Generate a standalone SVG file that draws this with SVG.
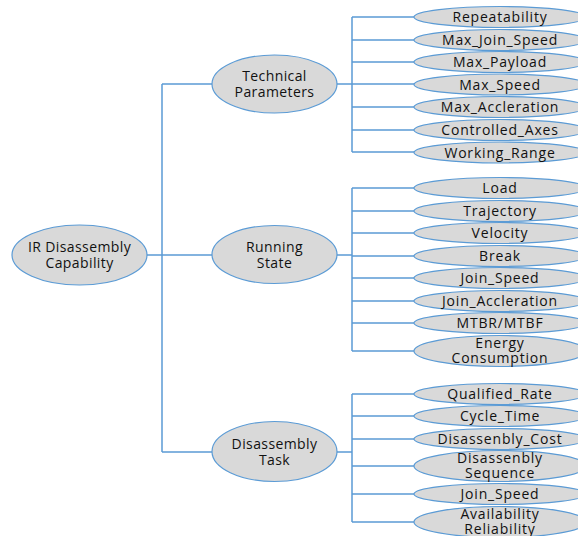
<svg xmlns="http://www.w3.org/2000/svg" width="578" height="536" viewBox="0 0 578 536">
<style>
.n ellipse{fill:#d9d9d9;stroke:#5b9bd5;stroke-width:1.2}
.n text{font-family:"Open Sans","Liberation Sans",sans-serif;font-size:14px;fill:#111111;text-anchor:middle;letter-spacing:0.4px}
.l text{letter-spacing:0.8px}
#connectors path{fill:none;stroke:#5b9bd5;stroke-width:1.5}
</style>
<rect width="578" height="536" fill="#ffffff"/>
<g id="connectors">
<path d="M147 255H162M162 84V452M162 84H212M162 255H212M162 452H212"/>
<path d="M337 84H352M352 17V152M352 17H414M352 40H414M352 62H414M352 84H414M352 107H414M352 130H414M352 152H414"/>
<path d="M337 255H352M352 188V351M352 188H414M352 211H414M352 233H414M352 256H414M352 278H414M352 301H414M352 323H414M352 351H414"/>
<path d="M337 452H352M352 394V522M352 394H414M352 416H414M352 439H414M352 466H414M352 494H414M352 522H414"/>
</g>
<g id="root" class="n"><ellipse cx="79.5" cy="255" rx="67.5" ry="30"/><text x="79.5" y="252">IR Disassembly</text><text x="79.5" y="268">Capability</text></g>
<g id="tech" class="n"><ellipse cx="274.5" cy="84" rx="62.5" ry="29"/><text x="274.5" y="81">Technical</text><text x="274.5" y="97">Parameters</text></g>
<g id="running" class="n"><ellipse cx="274.5" cy="254.5" rx="62.5" ry="29"/><text x="274.5" y="252">Running</text><text x="274.5" y="268">State</text></g>
<g id="task" class="n"><ellipse cx="274.5" cy="451.5" rx="62.5" ry="30"/><text x="274.5" y="449">Disassembly</text><text x="274.5" y="465">Task</text></g>
<g id="t1" class="n l"><ellipse cx="500" cy="17" rx="86" ry="10.5"/><text x="500" y="22">Repeatability</text></g>
<g id="t2" class="n l"><ellipse cx="500" cy="40" rx="86" ry="10.5"/><text x="500" y="45">Max_Join_Speed</text></g>
<g id="t3" class="n l"><ellipse cx="500" cy="62" rx="86" ry="10.5"/><text x="500" y="67">Max_Payload</text></g>
<g id="t4" class="n l"><ellipse cx="500" cy="84.5" rx="86" ry="10.5"/><text x="500" y="89.5">Max_Speed</text></g>
<g id="t5" class="n l"><ellipse cx="500" cy="107" rx="86" ry="10.5"/><text x="500" y="112">Max_Accleration</text></g>
<g id="t6" class="n l"><ellipse cx="500" cy="130" rx="86" ry="10.5"/><text x="500" y="135">Controlled_Axes</text></g>
<g id="t7" class="n l"><ellipse cx="500" cy="152.5" rx="86" ry="10.5"/><text x="500" y="157.5">Working_Range</text></g>
<g id="r1" class="n l"><ellipse cx="500" cy="188" rx="86" ry="10.5"/><text x="500" y="193">Load</text></g>
<g id="r2" class="n l"><ellipse cx="500" cy="211" rx="86" ry="10.5"/><text x="500" y="216">Trajectory</text></g>
<g id="r3" class="n l"><ellipse cx="500" cy="233" rx="86" ry="10.5"/><text x="500" y="238">Velocity</text></g>
<g id="r4" class="n l"><ellipse cx="500" cy="256" rx="86" ry="10.5"/><text x="500" y="261">Break</text></g>
<g id="r5" class="n l"><ellipse cx="500" cy="278" rx="86" ry="10.5"/><text x="500" y="283">Join_Speed</text></g>
<g id="r6" class="n l"><ellipse cx="500" cy="301" rx="86" ry="10.5"/><text x="500" y="306">Join_Accleration</text></g>
<g id="r7" class="n l"><ellipse cx="500" cy="323" rx="86" ry="10.5"/><text x="500" y="328">MTBR/MTBF</text></g>
<g id="r8" class="n l"><ellipse cx="500" cy="351" rx="86" ry="15.5"/><text x="500" y="348">Energy</text><text x="500" y="363">Consumption</text></g>
<g id="d1" class="n l"><ellipse cx="500" cy="394" rx="86" ry="10.5"/><text x="500" y="399">Qualified_Rate</text></g>
<g id="d2" class="n l"><ellipse cx="500" cy="416" rx="86" ry="10.5"/><text x="500" y="421">Cycle_Time</text></g>
<g id="d3" class="n l"><ellipse cx="500" cy="439" rx="86" ry="10.5"/><text x="500" y="444">Disassenbly_Cost</text></g>
<g id="d4" class="n l"><ellipse cx="500" cy="466" rx="86" ry="15.5"/><text x="500" y="463">Disassenbly</text><text x="500" y="478">Sequence</text></g>
<g id="d5" class="n l"><ellipse cx="500" cy="494" rx="86" ry="10.5"/><text x="500" y="499">Join_Speed</text></g>
<g id="d6" class="n l"><ellipse cx="500" cy="522" rx="86" ry="15.5"/><text x="500" y="519">Availability</text><text x="500" y="534">Reliability</text></g>
</svg>
